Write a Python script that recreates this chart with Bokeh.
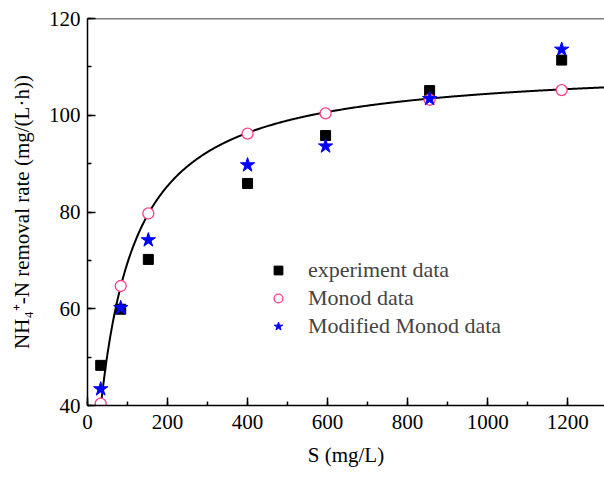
from bokeh.plotting import figure
from bokeh.models import (Range1d, SingleIntervalTicker, Legend, LegendItem, Span)
from bokeh.embed import file_html
from bokeh.resources import INLINE

# ---- data ----
S = [33, 83, 152, 400, 595, 855, 1185]
experiment = [48.3, 59.9, 70.2, 85.9, 95.8, 105.1, 111.4]
monod = [40.4, 64.7, 79.7, 96.2, 100.4, 103.2, 105.2]
modified = [43.4, 60.2, 74.2, 89.7, 93.6, 103.4, 113.6]

# Monod fitted curve parameters
RMAX = 110.6
KS = 59.1
curve_S = [33.5 + i * 2.0 for i in range(0, 640)]
curve_r = [RMAX * s / (KS + s) for s in curve_S]

FONT = "'Times New Roman', 'Liberation Serif', serif"

p = figure(frame_width=517, frame_height=387, output_backend="svg",
           toolbar_location=None, x_range=Range1d(0, 1292),
           y_range=Range1d(40, 120),
           min_border_left=87, min_border_right=0, min_border_top=18,
           min_border_bottom=72)
p.outline_line_color = None
p.grid.visible = False
p.background_fill_color = "white"

line = p.line(curve_S, curve_r, line_color="black", line_width=2)
sq = p.scatter(S, experiment, marker="square", size=10, fill_color="black",
               line_color="black")
ci = p.scatter(S, monod, marker="circle", size=11, fill_color="white",
               line_color="#ff3d8b", line_width=1.3)
st = p.scatter(S, modified, marker="star", size=15, fill_color="#0000ff",
               line_color="#0000ff")

top = Span(location=120, dimension="width", line_color="black", line_width=1.5)
p.add_layout(top)

for ax in (p.xaxis[0], p.yaxis[0]):
    ax.axis_line_width = 1.5
    ax.major_tick_line_width = 1.5
    ax.minor_tick_line_width = 1.5
    ax.major_tick_in = 8
    ax.major_tick_out = 0
    ax.minor_tick_in = 4
    ax.minor_tick_out = 0
    ax.major_label_text_font = FONT
    ax.major_label_text_font_size = "21px"
    ax.major_label_text_color = "black"
    ax.axis_label_text_font = FONT
    ax.axis_label_text_font_size = "21px"
    ax.axis_label_text_font_style = "normal"
    ax.axis_label_text_color = "black"

p.xaxis[0].ticker = SingleIntervalTicker(interval=200, num_minor_ticks=2)
p.yaxis[0].ticker = SingleIntervalTicker(interval=20, num_minor_ticks=2)
p.xaxis[0].axis_label = "S (mg/L)"
p.yaxis[0].axis_label = "NH\u2084\u207a-N removal rate (mg/(L\u00b7h))"
p.xaxis[0].major_label_standoff = 9
p.yaxis[0].major_label_standoff = 7
p.xaxis[0].axis_label_standoff = 11
p.yaxis[0].axis_label_standoff = 12

legend = Legend(items=[LegendItem(label="experiment data", renderers=[sq]),
                       LegendItem(label="Monod data", renderers=[ci]),
                       LegendItem(label="Modified Monod data", renderers=[st])],
                location=(180, 65), padding=0, spacing=0, glyph_width=22,
                glyph_height=28, label_standoff=19,
                label_text_font=FONT, label_text_font_size="22px",
                border_line_color=None, background_fill_alpha=0)
p.add_layout(legend, "center")

open("out.html", "w").write(file_html(p, INLINE))
